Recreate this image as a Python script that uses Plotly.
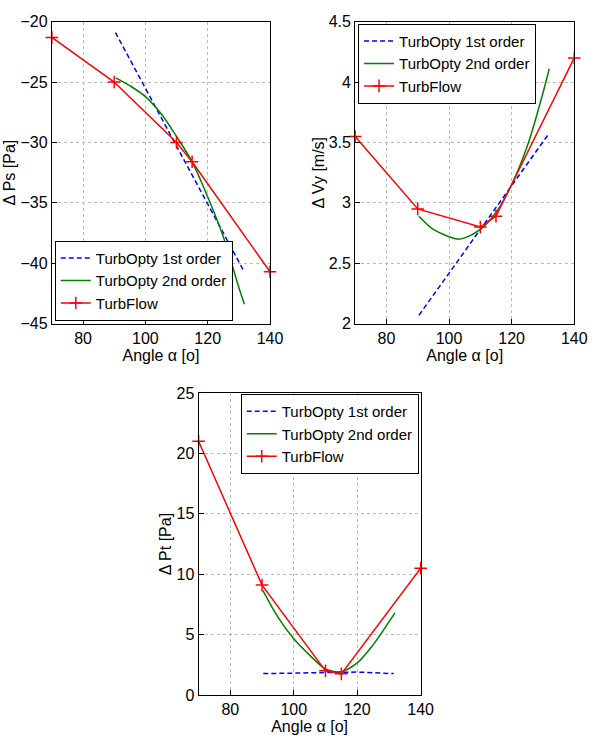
import plotly.graph_objects as go

# ---- data ----
tf_x = [70, 90, 110, 115, 140]
ps_tf = [-21.3, -25.0, -30.0, -31.6, -40.7]
vy_tf = [3.55, 2.95, 2.80, 2.89, 4.20]
pt_tf = [21.0, 9.1, 2.0, 1.75, 10.5]

ps_o1_x = [90.4, 131.5]
ps_o1_y = [-20.9, -40.6]
ps_o2_x = [90.5, 95, 100, 105, 110, 115, 120, 125, 130, 131.8]
ps_o2_y = [-24.65, -25.3, -26.2, -27.6, -29.5, -31.6, -34.5, -37.8, -42.0, -43.4]

vy_o1_x = [90.4, 131.8]
vy_o1_y = [2.07, 3.57]
vy_o2_x = [90.4, 95, 100, 102.6, 105, 110, 115, 120, 125, 130, 132.0]
vy_o2_y = [2.89, 2.78, 2.72, 2.70, 2.71, 2.78, 2.92, 3.15, 3.47, 3.91, 4.11]

pt_o1_x = [90.4, 100, 110, 115, 120, 131.5]
pt_o1_y = [1.77, 1.82, 1.90, 1.92, 1.90, 1.77]
pt_o2_x = [90.3, 95, 100, 105, 110, 113, 115, 120, 125, 130, 131.9]
pt_o2_y = [8.64, 6.45, 4.65, 3.3, 2.15, 1.93, 1.93, 2.66, 4.15, 6.05, 6.8]

names = ["TurbOpty 1st order", "TurbOpty 2nd order", "TurbFlow"]
BLUE, GREEN, RED = "#0000FF", "#008000", "#FF0000"
FONT = "Liberation Sans, Arial, sans-serif"
FS = 16
LFS = 15

fig = go.Figure()

panels = [
    (ps_o1_x, ps_o1_y, ps_o2_x, ps_o2_y, ps_tf, "x", "y", "legend"),
    (vy_o1_x, vy_o1_y, vy_o2_x, vy_o2_y, vy_tf, "x2", "y2", "legend2"),
    (pt_o1_x, pt_o1_y, pt_o2_x, pt_o2_y, pt_tf, "x3", "y3", "legend3"),
]
for o1x, o1y, o2x, o2y, tfy, xa, ya, lg in panels:
    fig.add_trace(go.Scatter(x=o1x, y=o1y, mode="lines", name=names[0],
                             line=dict(color=BLUE, width=1.5, dash="5px,3px"),
                             xaxis=xa, yaxis=ya, legend=lg))
    fig.add_trace(go.Scatter(x=o2x, y=o2y, mode="lines", name=names[1],
                             line=dict(color=GREEN, width=1.5, shape="spline"),
                             xaxis=xa, yaxis=ya, legend=lg))
    fig.add_trace(go.Scatter(x=tf_x, y=tfy, mode="lines+markers", name=names[2],
                             line=dict(color=RED, width=1.5),
                             marker=dict(symbol="cross-thin", size=9,
                                         line=dict(color=RED, width=1.5)),
                             cliponaxis=False,
                             xaxis=xa, yaxis=ya, legend=lg))

def xax(dom, anchor):
    return dict(domain=dom, anchor=anchor, range=[70, 140], tick0=0, dtick=20,
                showline=True, mirror=True, linecolor="black", linewidth=1,
                ticks="inside", ticklen=5, tickcolor="black",
                showgrid=True, gridcolor="#bbbbbb", griddash="dot", gridwidth=1,
                zeroline=False, tickfont=dict(size=FS, color="black", family=FONT),
                title=dict(text="Angle α [o]", font=dict(size=FS, color="black", family=FONT),
                           standoff=0))

def yax(dom, anchor, rng, dt, title):
    return dict(domain=dom, anchor=anchor, range=rng, dtick=dt,
                showline=True, mirror=True, linecolor="black", linewidth=1,
                ticks="inside", ticklen=5, tickcolor="black",
                showgrid=True, gridcolor="#bbbbbb", griddash="dot", gridwidth=1,
                zeroline=False, tickfont=dict(size=FS, color="black", family=FONT),
                title=dict(text=title, font=dict(size=FS, color="black", family=FONT),
                           standoff=0))

W, H = 599, 747
def px(v): return v / W
def py(v): return 1 - v / H

leg_common = dict(bgcolor="white", bordercolor="black", borderwidth=1,
                  font=dict(size=LFS, color="black", family=FONT),
                  tracegroupgap=0, itemwidth=30)

fig.update_layout(
    width=W, height=H, margin=dict(l=0, r=0, t=0, b=0),
    paper_bgcolor="white", plot_bgcolor="white",
    font=dict(family=FONT, color="black"),
    xaxis=xax([px(53), px(276)], "y"),
    yaxis=yax([py(323), py(14)], "x", [-45, -20], 5, "Δ Ps [Pa]"),
    xaxis2=xax([px(363), px(587)], "y2"),
    yaxis2=yax([py(323), py(14)], "x2", [2, 4.5], 0.5, "Δ Vy [m/s]"),
    xaxis3=xax([px(203), px(430)], "y3"),
    yaxis3=yax([py(703), py(394)], "x3", [0, 25], 5, "Δ Pt [Pa]"),
    legend=dict(x=px(56), y=py(320), xanchor="left", yanchor="bottom", **leg_common),
    legend2=dict(x=px(366), y=py(16), xanchor="left", yanchor="top", **leg_common),
    legend3=dict(x=px(428), y=py(395), xanchor="right", yanchor="top", **leg_common),
)

fig.write_html("out.html")
